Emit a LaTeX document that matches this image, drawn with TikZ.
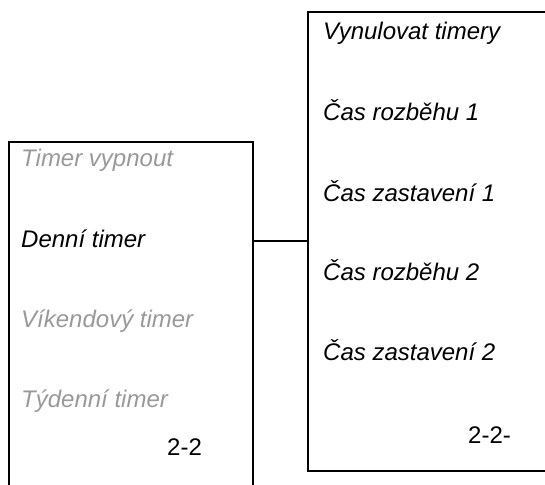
\documentclass[tikz,border=0pt]{standalone}
\usepackage{fontspec}
\setmainfont{Liberation Sans}
\definecolor{dimtext}{HTML}{999999}
\begin{document}
\begin{tikzpicture}[x=1pt,y=-1pt,
  panel/.style={draw=black,line width=2pt,rectangle,inner sep=0pt,outer sep=0pt},
  item/.style={anchor=base west,inner sep=0pt,font=\fontsize{24}{29}\selectfont\itshape},
  dim/.style={item,text=dimtext},
  pagenum/.style={anchor=base west,inner sep=0pt,font=\fontsize{24}{29}\selectfont},
  link/.style={draw=black,line width=2pt}]
\useasboundingbox (0,0) rectangle (545,484);
\clip (0,0) rectangle (545,484);
\node[panel,minimum width=244pt,minimum height=380pt] (leftbox) at (131,332) {};
\node[panel,minimum width=270pt,minimum height=458.5pt] (rightbox) at (442.5,241.75) {};
% left menu
\node[dim] (t1) at (21,166) {Timer vypnout};
\node[item] (t2) at (21,247) {Denní timer};
\node[dim] (t3) at (21,327) {Víkendový timer};
\node[dim] (t4) at (21,407) {Týdenní timer};
\node[pagenum] (p1) at (167,455) {2-2};
% right menu
\node[item] (r1) at (323,40) {Vynulovat timery};
\node[item] (r2) at (323,120) {Čas rozběhu 1};
\node[item] (r3) at (323,201) {Čas zastavení 1};
\node[item] (r4) at (323,280) {Čas rozběhu 2};
\node[item] (r5) at (323,360) {Čas zastavení 2};
\node[pagenum] (p2) at (468,443) {2-2-};
% connector
\coordinate (cy) at (0,241);
\draw[link] (leftbox.east |- cy) -- (rightbox.west |- cy);
\end{tikzpicture}
\end{document}
